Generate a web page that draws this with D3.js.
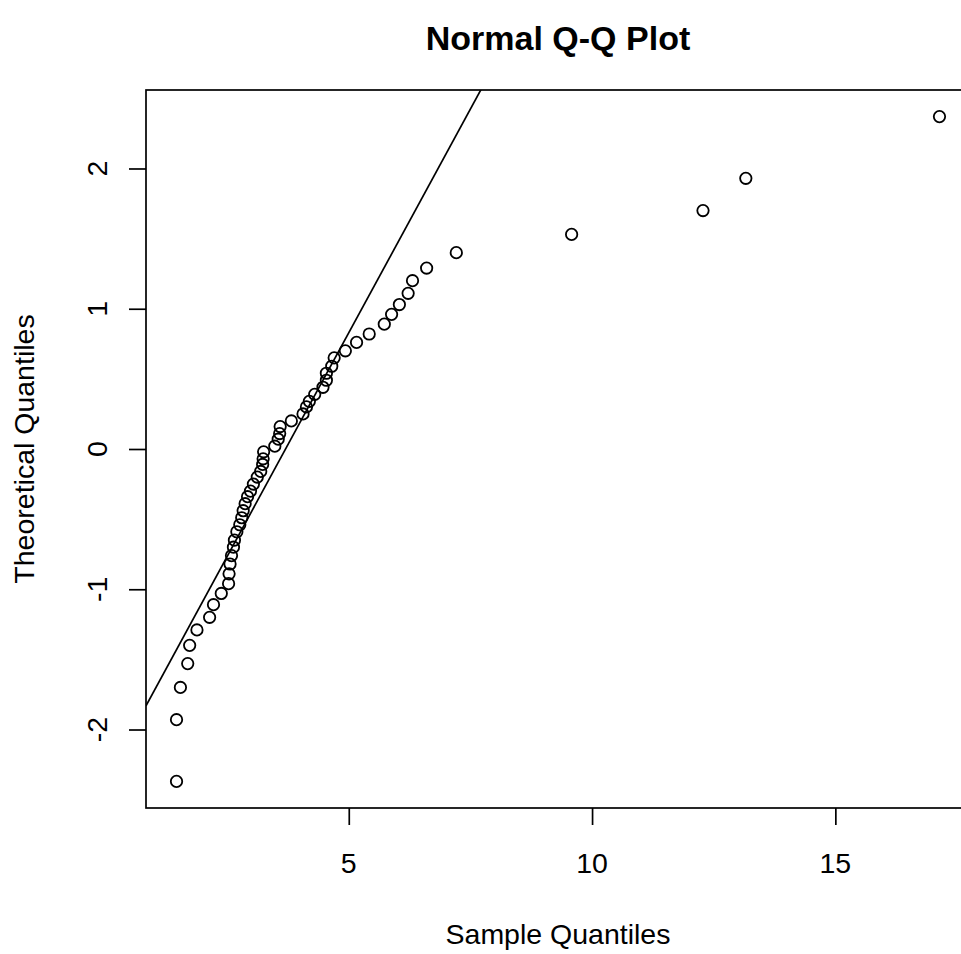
<!DOCTYPE html>
<html lang="en">
<head>
  <meta charset="UTF-8">
  <title>Normal Q-Q Plot</title>
  <script src="https://d3js.org/d3.v7.min.js"></script>
  <style>
    body { margin: 0; background: #fff; }
    svg { display: block; }
    text { font-family: "Liberation Sans", Arial, sans-serif; fill: #000; }
    .tick line { stroke: #000; stroke-width: 1.7px; }
    .pt { fill: none; stroke: #000; stroke-width: 1.8px; }
  </style>
</head>
<body>
  <svg></svg>
  <script>
    // sample quantiles (x), sorted
    const sampleQ = [1.46, 1.46, 1.54, 1.69, 1.73, 1.88, 2.14, 2.22, 2.38, 2.53,
                     2.54, 2.56, 2.59, 2.63, 2.65, 2.70, 2.76, 2.80, 2.83, 2.87,
                     2.92, 2.98, 3.04, 3.12, 3.19, 3.23, 3.24, 3.25, 3.48, 3.55,
                     3.58, 3.59, 3.82, 4.06, 4.13, 4.19, 4.30, 4.47, 4.54, 4.54,
                     4.65, 4.70, 4.93, 5.16, 5.42, 5.73, 5.88, 6.04, 6.22, 6.31,
                     6.60, 7.21, 9.58, 12.28, 13.16, 17.14];
    // theoretical quantiles (y)
    const theoQ = [-2.37, -1.93, -1.70, -1.53, -1.40, -1.29, -1.20, -1.11, -1.03, -0.96,
                   -0.89, -0.82, -0.76, -0.70, -0.65, -0.59, -0.54, -0.49, -0.44, -0.39,
                   -0.34, -0.30, -0.25, -0.20, -0.16, -0.11, -0.07, -0.02, 0.02, 0.07,
                   0.11, 0.16, 0.20, 0.25, 0.30, 0.34, 0.39, 0.44, 0.49, 0.54,
                   0.59, 0.65, 0.70, 0.76, 0.82, 0.89, 0.96, 1.03, 1.11, 1.20,
                   1.29, 1.40, 1.53, 1.70, 1.93, 2.37];
    const normQuartiles = [-0.674, 0.674];
    const xTicks = [5, 10, 15];
    const yTicks = [-2, -1, 0, 1, 2];

    const width = 961, height = 954;
    const plot = { left: 146, right: 970, top: 90, bottom: 808 };

    const svg = d3.select("svg").attr("width", width).attr("height", height);

    // R style: data range padded by 4% on each side
    function pad(ext) {
      const d = (ext[1] - ext[0]) * 0.04;
      return [ext[0] - d, ext[1] + d];
    }
    const x = d3.scaleLinear().domain(pad(d3.extent(sampleQ))).range([plot.left, plot.right]);
    const y = d3.scaleLinear().domain(pad(d3.extent(theoQ))).range([plot.bottom, plot.top]);

    svg.append("clipPath").attr("id", "clip")
      .append("rect")
      .attr("x", plot.left).attr("y", plot.top)
      .attr("width", plot.right - plot.left).attr("height", plot.bottom - plot.top);

    // qqline through the quartiles
    const q1 = d3.quantile(sampleQ, 0.25), q3 = d3.quantile(sampleQ, 0.75);
    const slope = (normQuartiles[1] - normQuartiles[0]) / (q3 - q1);
    const lineY = v => normQuartiles[0] + slope * (v - q1);
    const xd = x.domain();
    svg.append("line")
      .attr("clip-path", "url(#clip)")
      .attr("x1", x(xd[0])).attr("y1", y(lineY(xd[0])))
      .attr("x2", x(xd[1])).attr("y2", y(lineY(xd[1])))
      .attr("stroke", "#000").attr("stroke-width", 1.7);

    svg.selectAll(".pt").data(sampleQ).enter().append("circle")
      .attr("class", "pt")
      .attr("cx", d => x(d))
      .attr("cy", (d, i) => y(theoQ[i]))
      .attr("r", 5.7);

    // box
    svg.append("rect")
      .attr("x", plot.left).attr("y", plot.top)
      .attr("width", plot.right - plot.left).attr("height", plot.bottom - plot.top)
      .attr("fill", "none").attr("stroke", "#000").attr("stroke-width", 1.7);

    // x axis
    const gx = svg.append("g").attr("transform", `translate(0,${plot.bottom})`)
      .call(d3.axisBottom(x).tickValues(xTicks).tickSize(17).tickFormat(""));
    gx.select(".domain").remove();
    svg.selectAll(".xlab").data(xTicks).enter().append("text")
      .attr("x", d => x(d)).attr("y", 873)
      .attr("text-anchor", "middle").attr("font-size", 28.5)
      .text(d => d);

    // y axis
    const gy = svg.append("g").attr("transform", `translate(${plot.left},0)`)
      .call(d3.axisLeft(y).tickValues(yTicks).tickSize(17).tickFormat(""));
    gy.select(".domain").remove();
    svg.selectAll(".ylab").data(yTicks).enter().append("text")
      .attr("transform", d => `translate(107,${y(d)}) rotate(-90)`)
      .attr("text-anchor", "middle").attr("font-size", 28.5)
      .text(d => d);

    // titles
    svg.append("text")
      .attr("x", (plot.left + plot.right) / 2).attr("y", 50)
      .attr("text-anchor", "middle").attr("font-size", 34).attr("font-weight", "bold")
      .text("Normal Q-Q Plot");
    svg.append("text")
      .attr("x", (plot.left + plot.right) / 2).attr("y", 944)
      .attr("text-anchor", "middle").attr("font-size", 28.5)
      .text("Sample Quantiles");
    svg.append("text")
      .attr("transform", `translate(34,${(plot.top + plot.bottom) / 2}) rotate(-90)`)
      .attr("text-anchor", "middle").attr("font-size", 28.5)
      .text("Theoretical Quantiles");
  </script>
</body>
</html>
